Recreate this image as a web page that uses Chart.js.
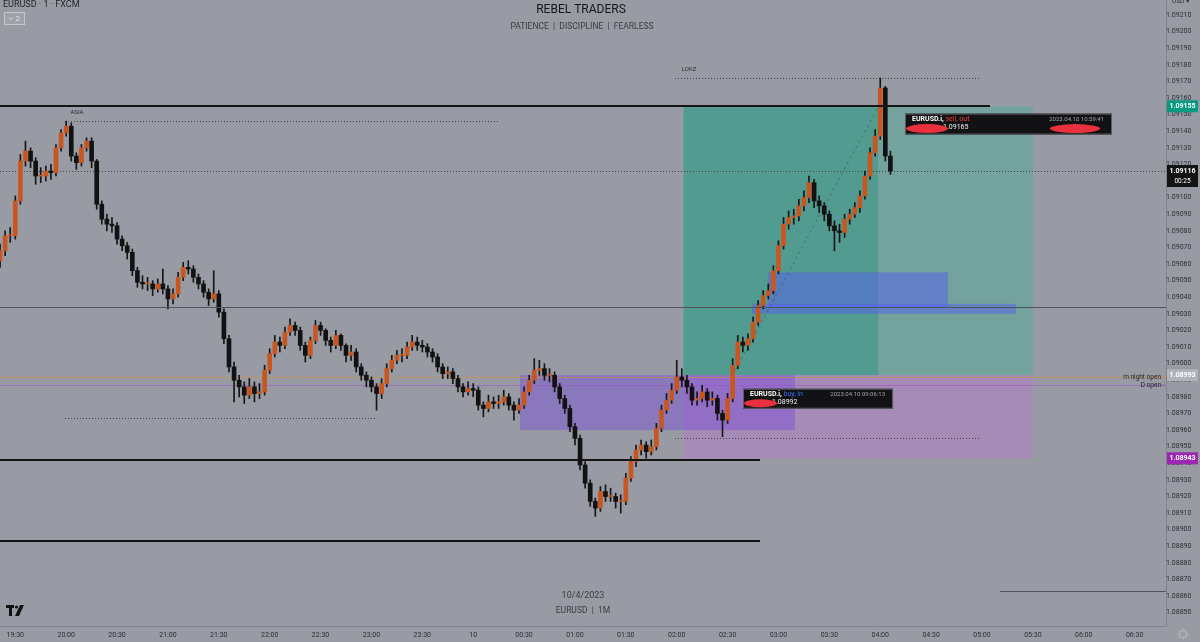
<!DOCTYPE html>
<html><head><meta charset="utf-8">
<script src="https://cdn.jsdelivr.net/npm/chart.js@4"></script>
<style>html,body{margin:0;padding:0;background:#989ba4;overflow:hidden}canvas{display:block}</style>
</head><body>
<canvas id="c" width="1200" height="642"></canvas>
<script>
// ---------- DATA ----------
const tickLabels = ['19:30','20:00','20:30','21:00','21:30','22:00','22:30','23:00','23:30','10','00:30','01:00','01:30','02:00','02:30','03:00','03:30','04:00','04:30','05:00','05:30','06:00','06:30'];
const priceTicks = [1.08850,1.08860,1.08870,1.08880,1.08890,1.08900,1.08910,1.08920,1.08930,1.08940,1.08950,1.08960,1.08970,1.08980,1.08990,1.09000,1.09010,1.09020,1.09030,1.09040,1.09050,1.09060,1.09070,1.09080,1.09090,1.09100,1.09110,1.09120,1.09130,1.09140,1.09150,1.09160,1.09170,1.09180,1.09190,1.09200,1.09210];
const candleStartMin = -9;   // minutes after 19:30
const candleStepMin = 3;
const firstOpen = 1.09062;
const closes = [1.09068,1.09077,1.09077,1.09098,1.09122,1.09128,1.09122,1.09113,1.09113,1.09116,1.09115,1.09130,1.09139,1.09143,1.09125,1.09121,1.09130,1.09134,1.09122,1.09096,1.09087,1.09084,1.09083,1.09075,1.09071,1.09067,1.09056,1.09049,1.09048,1.09048,1.09045,1.09048,1.09045,1.09039,1.09042,1.09052,1.09058,1.09057,1.09052,1.09048,1.09043,1.09039,1.09042,1.09031,1.09015,1.08998,1.08990,1.08986,1.08981,1.08986,1.08982,1.08983,1.08996,1.09006,1.09013,1.09011,1.09019,1.09023,1.09020,1.09011,1.09005,1.09014,1.09023,1.09020,1.09014,1.09011,1.09017,1.09011,1.09005,1.09007,1.08998,1.08993,1.08990,1.08986,1.08982,1.08988,1.08997,1.09002,1.09005,1.09005,1.09010,1.09013,1.09011,1.09010,1.09007,1.09004,1.08998,1.08994,1.08995,1.08991,1.08986,1.08983,1.08985,1.08984,1.08975,1.08973,1.08977,1.08976,1.08977,1.08980,1.08975,1.08972,1.08975,1.08983,1.08990,1.08996,1.08997,1.08993,1.08993,1.08986,1.08979,1.08973,1.08962,1.08955,1.08939,1.08928,1.08917,1.08913,1.08923,1.08920,1.08920,1.08917,1.08917,1.08931,1.08941,1.08948,1.08951,1.08947,1.08950,1.08961,1.08972,1.08978,1.08984,1.08992,1.08990,1.08986,1.08978,1.08979,1.08983,1.08978,1.08979,1.08970,1.08966,1.08979,1.08999,1.09013,1.09011,1.09015,1.09025,1.09035,1.09041,1.09044,1.09056,1.09071,1.09084,1.09088,1.09089,1.09095,1.09100,1.09109,1.09098,1.09095,1.09090,1.09083,1.09080,1.09079,1.09087,1.09090,1.09094,1.09101,1.09113,1.09127,1.09137,1.09166,1.09125,1.09116];
const highs = [1.09072,1.09080,1.09082,1.09101,1.09126,1.09134,1.09130,1.09124,1.09118,1.09119,1.09120,1.09132,1.09141,1.09146,1.09145,1.09127,1.09132,1.09136,1.09136,1.09123,1.09098,1.09090,1.09088,1.09085,1.09077,1.09073,1.09069,1.09058,1.09053,1.09052,1.09050,1.09051,1.09057,1.09047,1.09045,1.09055,1.09061,1.09062,1.09059,1.09054,1.09050,1.09045,1.09056,1.09044,1.09033,1.09017,1.09001,1.08993,1.08989,1.08991,1.08989,1.08988,1.08999,1.09009,1.09017,1.09016,1.09022,1.09027,1.09025,1.09022,1.09013,1.09016,1.09026,1.09025,1.09021,1.09016,1.09020,1.09018,1.09012,1.09011,1.09009,1.09000,1.08995,1.08992,1.08988,1.08991,1.09000,1.09005,1.09008,1.09009,1.09013,1.09017,1.09016,1.09014,1.09012,1.09009,1.09006,1.09000,1.08998,1.08997,1.08993,1.08988,1.08989,1.08988,1.08986,1.08977,1.08981,1.08980,1.08981,1.08984,1.08982,1.08977,1.08979,1.08986,1.08993,1.09003,1.09002,1.09000,1.08997,1.08995,1.08988,1.08981,1.08975,1.08964,1.08957,1.08941,1.08930,1.08919,1.08926,1.08927,1.08925,1.08922,1.08921,1.08934,1.08944,1.08951,1.08954,1.08953,1.08954,1.08964,1.08975,1.08982,1.08988,1.09002,1.08997,1.08993,1.08988,1.08983,1.08987,1.08985,1.08983,1.08981,1.08972,1.08982,1.09003,1.09017,1.09016,1.09018,1.09028,1.09038,1.09044,1.09048,1.09059,1.09074,1.09088,1.09092,1.09093,1.09099,1.09104,1.09113,1.09111,1.09101,1.09097,1.09092,1.09086,1.09084,1.09090,1.09093,1.09097,1.09104,1.09116,1.09130,1.09141,1.09172,1.09167,1.09128];
const lows = [1.09058,1.09065,1.09073,1.09075,1.09096,1.09119,1.09118,1.09108,1.09109,1.09110,1.09111,1.09113,1.09128,1.09137,1.09122,1.09117,1.09119,1.09128,1.09118,1.09093,1.09084,1.09080,1.09079,1.09072,1.09068,1.09063,1.09053,1.09046,1.09045,1.09044,1.09041,1.09043,1.09042,1.09033,1.09036,1.09040,1.09050,1.09054,1.09049,1.09045,1.09040,1.09035,1.09037,1.09028,1.09012,1.08995,1.08977,1.08980,1.08976,1.08979,1.08977,1.08979,1.08981,1.08994,1.09004,1.09007,1.09009,1.09017,1.09017,1.09008,1.09001,1.09003,1.09012,1.09017,1.09011,1.09007,1.09009,1.09008,1.09001,1.09002,1.08995,1.08990,1.08986,1.08983,1.08972,1.08979,1.08986,1.08995,1.09000,1.09001,1.09003,1.09008,1.09008,1.09007,1.09004,1.09001,1.08995,1.08991,1.08991,1.08988,1.08983,1.08980,1.08981,1.08980,1.08972,1.08968,1.08971,1.08973,1.08973,1.08975,1.08972,1.08966,1.08970,1.08973,1.08981,1.08988,1.08993,1.08990,1.08989,1.08983,1.08976,1.08970,1.08959,1.08951,1.08936,1.08925,1.08914,1.08908,1.08911,1.08917,1.08917,1.08913,1.08910,1.08915,1.08929,1.08938,1.08945,1.08943,1.08945,1.08948,1.08959,1.08970,1.08976,1.08982,1.08986,1.08982,1.08975,1.08975,1.08977,1.08974,1.08975,1.08966,1.08956,1.08964,1.08977,1.08997,1.09007,1.09008,1.09013,1.09023,1.09033,1.09039,1.09042,1.09054,1.09069,1.09081,1.09084,1.09086,1.09092,1.09097,1.09094,1.09091,1.09086,1.09080,1.09068,1.09073,1.09076,1.09084,1.09088,1.09091,1.09099,1.09111,1.09125,1.09135,1.09122,1.09114];

// annotations (time in minutes after 19:30, prices)
const longPosition = {start:394, entryTime:423, exit:509, end:600, entry:1.08993, target:1.09155, stop:1.08943, exitPrice:1.09165};
const purpleZone = {t0:297.6, t1:459.7, p0:1.08993, p1:1.08960};
const blueZones = [{t0:443.8, t1:550, p0:1.09055, p1:1.09034},{t0:434.4, t1:590, p0:1.09036, p1:1.09030}];
const solidLines = [{p:1.09155, t0:null, t1:574.7, w:2, c:'#141414'},{p:1.08942, t0:null, t1:439.1, w:2, c:'#141414'},{p:1.08893, t0:null, t1:439.1, w:2, c:'#141414'},{p:1.09034, t0:null, t1:null, w:1, c:'#50535b'},{p:1.08863, t0:580.6, t1:null, w:1, c:'#50535b'}];
const dottedLines = [{p:1.09116, t0:-20, t1:null},{p:1.09146, t0:29.3, t1:285.8},{p:1.08967, t0:29.3, t1:212.1},{p:1.09172, t0:389, t1:568.8},{p:1.08955, t0:389, t1:568.8}];
const sessionLabels = [{text:'ASIA', t:32.5, p:1.09151},{text:'LOKZ', t:393, p:1.09177}];
const openLines = [{label:'m night open', p:1.08992, c:'#d98f3a'},{label:'D open', p:1.08987, c:'#9b4fc4'}];

// ---------- BUILD ----------
const times = closes.map((_, i) => candleStartMin + i * candleStepMin);
const opens = closes.map((_, i) => i === 0 ? firstOpen : closes[i - 1]);
const wickData = times.map((t, i) => ({x: t, y: [lows[i], highs[i]]}));
const bodyData = times.map((t, i) => ({x: t, y: [opens[i], closes[i]]}));
const bodyColors = closes.map((c, i) => c >= opens[i] ? '#c9561f' : '#121212');

const FONT = 'Roboto, "Liberation Sans", Arial, sans-serif';

const overlay = {
  id: 'overlay',
  beforeDatasetsDraw(chart) {
    const ctx = chart.ctx, xs = chart.scales.x, ys = chart.scales.y;
    const X = v => xs.getPixelForValue(v), Y = v => ys.getPixelForValue(v);
    const R = chart.chartArea.right;
    ctx.save();
    const lp = longPosition;
    ctx.fillStyle = '#529b91';
    ctx.fillRect(X(lp.start), Y(lp.target), X(lp.exit) - X(lp.start), Y(lp.entry) - Y(lp.target));
    ctx.fillStyle = '#74a29d';
    ctx.fillRect(X(lp.exit), Y(lp.target), X(lp.end) - X(lp.exit), Y(lp.entry) - Y(lp.target));
    ctx.fillStyle = '#a68bb6';
    ctx.fillRect(X(lp.start), Y(lp.entry), X(lp.end) - X(lp.start), Y(lp.stop) - Y(lp.entry));
    ctx.fillStyle = 'rgba(112,62,225,0.38)';
    const pz = purpleZone;
    ctx.fillRect(X(pz.t0), Y(pz.p0), X(pz.t1) - X(pz.t0), Y(pz.p1) - Y(pz.p0));
    ctx.fillStyle = 'rgba(85,95,240,0.5)';
    blueZones.forEach(z => ctx.fillRect(X(z.t0), Y(z.p0), X(z.t1) - X(z.t0), Y(z.p1) - Y(z.p0)));
    ctx.strokeStyle = 'rgba(70,70,80,0.55)'; ctx.lineWidth = 1; ctx.setLineDash([3,3]);
    ctx.beginPath(); ctx.moveTo(X(lp.entryTime), Y(lp.entry)); ctx.lineTo(X(lp.exit), Y(lp.target)); ctx.stroke();
    ctx.setLineDash([]);
    ctx.strokeStyle = '#40434b'; ctx.lineWidth = 1; ctx.setLineDash([1,2]);
    dottedLines.forEach(l => {
      const yy = Math.round(Y(l.p)) + 0.5;
      ctx.beginPath(); ctx.moveTo(l.t0 < xs.min ? 0 : X(l.t0), yy); ctx.lineTo(l.t1 == null ? R : X(l.t1), yy); ctx.stroke();
    });
    ctx.setLineDash([]);
    openLines.forEach(l => {
      const yy = Math.round(Y(l.p)) + 0.5;
      ctx.strokeStyle = l.c; ctx.globalAlpha = 0.55; ctx.lineWidth = 1;
      ctx.beginPath(); ctx.moveTo(0, yy); ctx.lineTo(R, yy); ctx.stroke();
      ctx.globalAlpha = 1;
    });
    ctx.restore();
  },
  afterDatasetsDraw(chart) {
    const ctx = chart.ctx, xs = chart.scales.x, ys = chart.scales.y;
    const X = v => xs.getPixelForValue(v), Y = v => ys.getPixelForValue(v);
    const R = chart.chartArea.right;
    ctx.save();
    solidLines.forEach(l => {
      const yy = Math.round(Y(l.p)) + (l.w === 1 ? 0.5 : 0);
      ctx.strokeStyle = l.c; ctx.lineWidth = l.w;
      ctx.beginPath(); ctx.moveTo(l.t0 == null ? 0 : X(l.t0), yy); ctx.lineTo(l.t1 == null ? R : X(l.t1), yy); ctx.stroke();
    });
    ctx.fillStyle = '#2b2d34'; ctx.font = '6px ' + FONT; ctx.textBaseline = 'middle'; ctx.textAlign = 'left';
    sessionLabels.forEach(s => ctx.fillText(s.text, X(s.t), Y(s.p)));
    ctx.font = '6.5px ' + FONT; ctx.textAlign = 'right';
    openLines.forEach(l => {
      const yy = Y(l.p);
      ctx.fillStyle = '#1e2026'; ctx.fillText(l.label, R - 5, yy);
      ctx.strokeStyle = l.c; ctx.beginPath(); ctx.moveTo(R - 4, yy); ctx.lineTo(R - 1, yy); ctx.stroke();
    });
    const box = (x, y, w, h, side, sideColor, time, price, blobA, blobB) => {
      ctx.fillStyle = '#121214'; ctx.fillRect(x, y, w, h);
      ctx.strokeStyle = '#5c5f66'; ctx.lineWidth = 1; ctx.strokeRect(x + 0.5, y + 0.5, w - 1, h - 1);
      ctx.textAlign = 'left'; ctx.textBaseline = 'middle';
      ctx.font = 'bold 7px ' + FONT; ctx.fillStyle = '#ffffff';
      const a = 'EURUSD.i, '; ctx.fillText(a, x + 7, y + 6);
      const aw = ctx.measureText(a).width;
      ctx.font = '7px ' + FONT; ctx.fillStyle = sideColor; ctx.fillText(side, x + 7 + aw, y + 6);
      ctx.textAlign = 'right'; ctx.fillStyle = '#a3a6ad'; ctx.font = '6px ' + FONT; ctx.fillText(time, x + w - 8, y + 6);
      ctx.textAlign = 'left'; ctx.fillStyle = '#f2f2f2'; ctx.font = '7px ' + FONT; ctx.fillText(price, x + blobA[2] - 4, y + 14);
      ctx.fillStyle = '#e8303f';
      [blobA, blobB].forEach(b => { if (!b) return; ctx.beginPath(); ctx.ellipse(x + b[0] + b[2] / 2, y + b[1], b[2] / 2, b[3] / 2, 0, 0, Math.PI * 2); ctx.fill(); });
    };
    box(X(524.6), Y(1.091506), 207, 21, 'sell, out', '#ef3b3b', '2023.04.10 10:59:41', '1.09165', [1, 15, 42, 9], [145, 15, 50, 9]);
    box(X(429.1), Y(1.089849), 150, 20, 'buy, in', '#2f6df0', '2023.04.10 09:06:13', '1.08992', [1, 14.5, 33, 8], null);
    ctx.restore();
  },
  afterDraw(chart) {
    const ctx = chart.ctx, ys = chart.scales.y;
    const Y = v => ys.getPixelForValue(v);
    const R = chart.chartArea.right;
    ctx.save();
    ctx.textBaseline = 'middle'; ctx.textAlign = 'center';
    const tag = (p, bg, fg, txt, txt2) => {
      const yy = Y(p);
      const h = txt2 ? 22 : 12;
      ctx.fillStyle = bg; ctx.fillRect(R + 1, yy - 6, 31, h);
      ctx.fillStyle = fg; ctx.font = 'bold 7px ' + FONT; ctx.fillText(txt, R + 16.5, yy);
      if (txt2) { ctx.font = '6.5px ' + FONT; ctx.fillText(txt2, R + 16.5, yy + 10); }
    };
    tag(1.09155, '#089981', '#ffffff', '1.09155');
    tag(1.09116, '#131313', '#ffffff', '1.09116', '00:25');
    tag(1.08993, '#b0b3bb', '#ffffff', '1.08993');
    tag(1.08943, '#9c27b0', '#ffffff', '1.08943');
    ctx.fillStyle = '#34363d'; ctx.font = '6.5px ' + FONT; ctx.textAlign = 'left'; ctx.fillText('USD ▾', R + 6, 1);
    ctx.fillStyle = '#1f2128'; ctx.font = '9px ' + FONT; ctx.textAlign = 'left'; ctx.fillText('EURUSD · 1 · FXCM', 3, 5);
    ctx.strokeStyle = '#c4c7ce'; ctx.lineWidth = 1; ctx.fillStyle = 'rgba(255,255,255,0.08)';
    ctx.fillRect(4.5, 12.5, 20, 12); ctx.strokeRect(4.5, 12.5, 20, 12);
    ctx.strokeStyle = '#d6d8de'; ctx.beginPath(); ctx.moveTo(9, 17.5); ctx.lineTo(11, 19.5); ctx.lineTo(13, 17.5); ctx.stroke();
    ctx.fillStyle = '#e0e2e7'; ctx.font = '8px ' + FONT; ctx.fillText('2', 15.5, 19);
    ctx.textAlign = 'center';
    ctx.fillStyle = '#16171b'; ctx.font = '12px ' + FONT; ctx.fillText('REBEL TRADERS', 581, 10);
    ctx.fillStyle = '#3a3c44'; ctx.font = '8.5px ' + FONT; ctx.fillText('PATIENCE  |  DISCIPLINE  |  FEARLESS', 582, 27);
    ctx.fillStyle = '#3a3c44'; ctx.font = '9px ' + FONT; ctx.fillText('10/4/2023', 583, 596);
    ctx.font = '8.5px ' + FONT; ctx.fillText('EURUSD  |  1M', 583, 611);
    ctx.fillStyle = '#111';
    ctx.fillRect(6, 605, 8, 3); ctx.fillRect(9, 605, 3, 11);
    ctx.beginPath(); ctx.arc(16.5, 607, 1.6, 0, Math.PI * 2); ctx.fill();
    ctx.beginPath(); ctx.moveTo(20, 605); ctx.lineTo(24, 605); ctx.lineTo(19, 616); ctx.lineTo(15, 616); ctx.closePath(); ctx.fill();
    ctx.strokeStyle = '#b9bcc3'; ctx.lineWidth = 1;
    ctx.beginPath(); ctx.arc(1183, 634, 3.5, 0, Math.PI * 2); ctx.stroke();
    for (let k = 0; k < 8; k++) { const a = k * Math.PI / 4; ctx.beginPath(); ctx.moveTo(1183 + Math.cos(a) * 3.5, 634 + Math.sin(a) * 3.5); ctx.lineTo(1183 + Math.cos(a) * 5.5, 634 + Math.sin(a) * 5.5); ctx.stroke(); }
    ctx.restore();
  }
};

new Chart(document.getElementById('c'), {
  type: 'bar',
  data: {
    datasets: [
      {label: 'wick', data: wickData, backgroundColor: '#161616', barThickness: 1, grouped: false, order: 2},
      {label: 'body', data: bodyData, backgroundColor: bodyColors, barThickness: 4, minBarLength: 1, grouped: false, order: 1}
    ]
  },
  options: {
    responsive: false, animation: false, events: [],
    layout: {padding: 0},
    plugins: {legend: {display: false}, tooltip: {enabled: false}, title: {display: false}},
    scales: {
      x: {
        type: 'linear', min: -9.02, max: 678.5, offset: false,
        afterFit: s => { s.height = 16; s.paddingLeft = 0; s.paddingRight = 0; },
        afterBuildTicks: s => { s.ticks = tickLabels.map((_, i) => ({value: i * 30})); },
        ticks: {autoSkip: false, maxRotation: 0, padding: 5, color: '#2b2d35', font: {size: 7, family: FONT},
          callback: v => tickLabels[Math.round(v / 30)] ?? ''},
        grid: {display: false, drawTicks: false},
        border: {display: true, color: '#80838b'}
      },
      y: {
        type: 'linear', position: 'right', min: 1.088420, max: 1.092190,
        afterFit: s => { s.width = 34; s.paddingTop = 0; s.paddingBottom = 0; },
        afterBuildTicks: s => { s.ticks = priceTicks.map(v => ({value: v})); },
        ticks: {autoSkip: false, padding: 0, crossAlign: 'center', color: '#2b2d35', font: {size: 7, family: FONT},
          callback: v => v.toFixed(5)},
        grid: {display: false, drawTicks: false},
        border: {display: true, color: '#80838b'}
      }
    }
  },
  plugins: [overlay]
});
</script>
</body></html>
